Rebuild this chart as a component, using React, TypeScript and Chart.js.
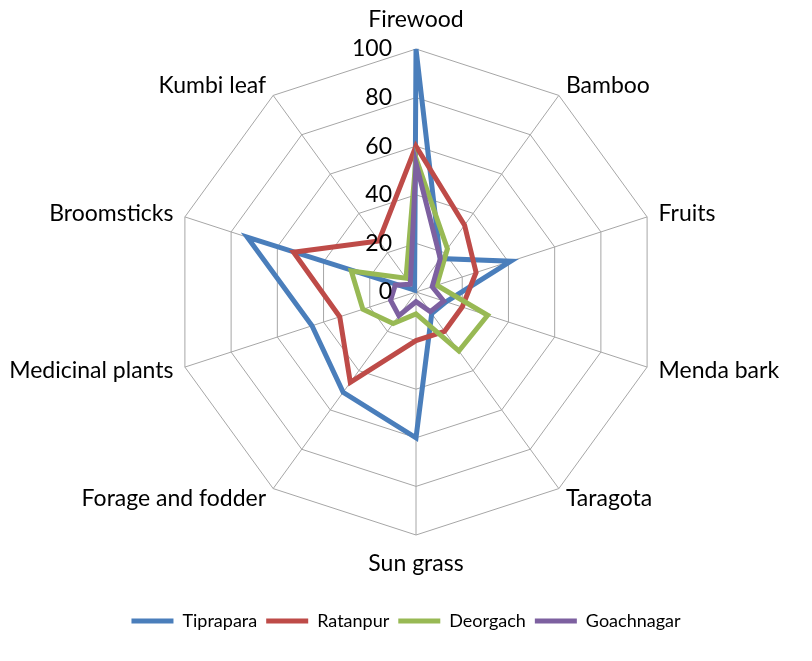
import React, { useEffect, useRef } from "react";
import { Chart, registerables } from "chart.js";

Chart.register(...registerables);

const categories = [
  "Firewood",
  "Bamboo",
  "Fruits",
  "Menda bark",
  "Taragota",
  "Sun grass",
  "Forage and fodder",
  "Medicinal plants",
  "Broomsticks",
  "Kumbi leaf",
];
const seriesNames = ["Tiprapara", "Ratanpur", "Deorgach", "Goachnagar"];
const tiprapara = [100, 17, 41, 13, 11, 60, 51, 45, 73, 1];
const ratanpur = [60, 34, 26, 20, 20, 20, 46, 33, 53, 26];
const deorgach = [55, 22, 9, 31, 30, 9, 16, 23, 28, 7];
const goachnagar = [53, 17, 7, 12, 10, 4, 12, 11, 9, 4];
const tickValues = [0, 20, 40, 60, 80, 100];

const colors = ["#4a7ebb", "#be4b48", "#98b954", "#7d60a0"];
const FONT = "Lato";
const LABEL_SIZE = 23;

const labelPlugin = {
  id: "customLabels",
  afterDraw(chart: any) {
    const s = chart.scales.r;
    const ctx = chart.ctx;
    ctx.save();
    ctx.font = `${LABEL_SIZE}px ${FONT}`;
    ctx.fillStyle = "#000";
    ctx.textAlign = "right";
    ctx.textBaseline = "middle";
    tickValues.forEach((v) => {
      const d = s.getDistanceFromCenterForValue(v);
      ctx.fillText(String(v), s.xCenter - 24, s.yCenter - d);
    });
    categories.forEach((c, i) => {
      const p = s.getPointPosition(i, s.drawingArea + 12);
      const dx = p.x - s.xCenter;
      let y = p.y;
      let align = "center";
      if (Math.abs(dx) < 1) {
        y += p.y < s.yCenter ? -17 : 17;
      } else {
        align = dx > 0 ? "left" : "right";
      }
      ctx.textAlign = align;
      ctx.fillText(c, p.x, y);
    });
    ctx.restore();
  },
};

export default function App() {
  const ref = useRef<HTMLCanvasElement>(null);
  useEffect(() => {
    document.body.style.margin = "0";
    const seriesData = [tiprapara, ratanpur, deorgach, goachnagar];
    const chart = new Chart(ref.current!, {
      type: "radar",
      data: {
        labels: categories,
        datasets: seriesNames.map((name, i) => ({
          label: name,
          data: seriesData[i],
          borderColor: colors[i],
          backgroundColor: colors[i],
          fill: false,
          borderWidth: 5,
          pointRadius: 0,
          pointHoverRadius: 0,
          order: 4 - i,
        })),
      },
      options: {
        responsive: false,
        animation: false,
        layout: { padding: { bottom: 21 } },
        plugins: {
          tooltip: { enabled: false },
          legend: {
            position: "bottom",
            labels: {
              font: { family: FONT, size: 18 },
              color: "#000",
              usePointStyle: true,
              pointStyle: "line",
              pointStyleWidth: 42,
              padding: 9,
              sort: (a: any, b: any) => a.datasetIndex - b.datasetIndex,
            },
          },
        },
        scales: {
          r: {
            min: 0,
            max: 100,
            ticks: { stepSize: 20, display: false },
            grid: { color: "#a6a6a6", lineWidth: 1 },
            angleLines: { color: "#a6a6a6", lineWidth: 1 },
            pointLabels: { display: false },
            afterFit: (s: any) => {
              s.xCenter = 416;
              s.yCenter = 292;
              s.drawingArea = 243;
            },
          },
        },
      },
      plugins: [labelPlugin],
    });
    return () => chart.destroy();
  }, []);
  return <canvas ref={ref} width={812} height={661} style={{ display: "block" }} />;
}
